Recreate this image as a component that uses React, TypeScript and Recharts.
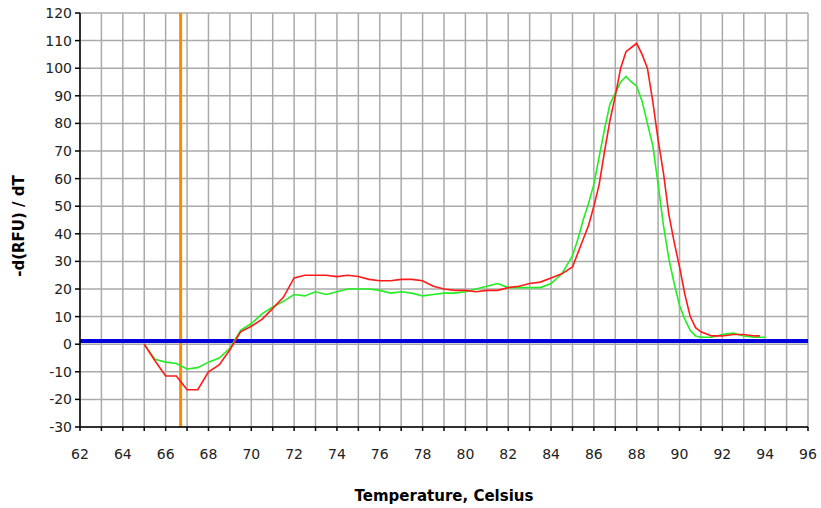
import {
  LineChart,
  Line,
  XAxis,
  YAxis,
  CartesianGrid,
  ReferenceLine,
} from "recharts";

const temps = [
  65, 65.5, 66, 66.5, 67, 67.5, 68, 68.5, 69, 69.5, 70, 70.5, 71, 71.5, 72, 72.5,
  73, 73.5, 74, 74.5, 75, 75.5, 76, 76.5, 77, 77.5, 78, 78.5, 79, 79.5, 80, 80.5,
  81, 81.5, 82, 82.5, 83, 83.5, 84, 84.5, 85, 85.25, 85.5, 85.75, 86, 86.25, 86.5,
  86.75, 87, 87.25, 87.5, 87.75, 88, 88.25, 88.5, 88.75, 89, 89.25, 89.5, 89.75,
  90, 90.25, 90.5, 90.75, 91, 91.5, 92, 92.5, 93, 93.5, 93.75, 94,
];

const red = [
  0, -6, -11.5, -11.5, -16.5, -16.5, -10, -7.5, -2, 4.5, 6.5, 9, 13, 17, 24, 25,
  25, 25, 24.5, 25, 24.5, 23.5, 23, 23, 23.5, 23.5, 23, 21, 20, 19.5, 19.5, 19,
  19.5, 19.5, 20.5, 21, 22, 22.5, 24, 25.5, 28, 33, 38, 43, 50, 58, 70,
  81, 90, 100, 106, 107.5, 109, 105, 100, 88, 74, 62, 47, 37,
  28, 18, 10, 6, 4.5, 3, 3, 3.5, 3.5, 3, 3, null,
];

const green = [
  0, -5.5, -6.5, -7, -9, -8.5, -6.5, -5, -1.5, 5, 7.5, 11, 13.5, 15.5, 18, 17.5,
  19, 18, 19, 20, 20, 20, 19.5, 18.5, 19, 18.5, 17.5, 18, 18.5, 18.5, 19, 20,
  21, 22, 20.5, 20.5, 20.5, 20.5, 22, 25.5, 32, 38, 45, 51, 58, 68, 78,
  87, 91, 95, 97, 95, 93.5, 88, 80, 72, 58, 43, 31, 22,
  14, 9, 5, 3, 2.5, 2.5, 3.5, 4, 3, 2.5, 2.5, 2.5,
];

const xTicks = [
  62, 63, 64, 65, 66, 67, 68, 69, 70, 71, 72, 73, 74, 75, 76, 77, 78, 79, 80, 81,
  82, 83, 84, 85, 86, 87, 88, 89, 90, 91, 92, 93, 94, 95, 96,
];
const yTicks = [-30, -20, -10, 0, 10, 20, 30, 40, 50, 60, 70, 80, 90, 100, 110, 120];

const threshold = 1.2;
const cursorTemp = 66.7;

const data = temps.map((t, i) => ({ t, red: red[i], green: green[i] }));

const font = "'DejaVu Sans', Verdana, sans-serif";

const XTick = (props: any) => {
  const { x, y, payload } = props;
  if (payload.value % 2 !== 0) return null;
  return (
    <text x={x} y={y + 26} textAnchor="middle" fontSize={14} fill="#222" fontFamily={font}>
      {payload.value}
    </text>
  );
};

const YTick = (props: any) => {
  const { x, y, payload } = props;
  return (
    <text x={x - 1} y={y + 5} textAnchor="end" fontSize={14} fill="#222" fontFamily={font}>
      {payload.value}
    </text>
  );
};

export default function App() {
  return (
    <div>
      <style>{"body{margin:0;background:#fff}"}</style>
      <LineChart
        width={821}
        height={508}
        data={data}
        margin={{ top: 13, right: 13, bottom: 0, left: 0 }}
      >
        <CartesianGrid stroke="#aaaaaa" strokeWidth={1.5} />
        <XAxis
          dataKey="t"
          type="number"
          domain={[62, 96]}
          ticks={xTicks}
          interval={0}
          height={81}
          tick={<XTick />}
          tickSize={4}
          axisLine={{ stroke: "#000", strokeWidth: 1.5 }}
          tickLine={{ stroke: "#000", strokeWidth: 1.5 }}
          label={{
            value: "Temperature, Celsius",
            position: "insideBottom",
            offset: 7,
            fill: "#000",
            fontSize: 15,
            fontWeight: "bold",
            fontFamily: font,
          }}
        />
        <YAxis
          type="number"
          domain={[-30, 120]}
          ticks={yTicks}
          interval={0}
          width={80}
          tick={<YTick />}
          tickSize={5}
          axisLine={{ stroke: "#000", strokeWidth: 1.5 }}
          tickLine={{ stroke: "#000", strokeWidth: 1.5 }}
          label={{
            content: () => (
              <text
                x={19}
                y={226}
                transform="rotate(-90 19 226)"
                textAnchor="middle"
                dominantBaseline="middle"
                fontSize={15}
                fontWeight="bold"
                fontFamily={font}
                fill="#000"
              >
                -d(RFU) / dT
              </text>
            ),
          }}
        />
        <ReferenceLine x={cursorTemp} stroke="#ff8800" strokeWidth={3} />
        <ReferenceLine y={threshold} stroke="#0000dd" strokeWidth={4} />
        <Line
          dataKey="green"
          stroke="#22ee22"
          strokeWidth={1.6}
          dot={false}
          type="linear"
          isAnimationActive={false}
        />
        <Line
          dataKey="red"
          stroke="#ff1a1a"
          strokeWidth={1.6}
          dot={false}
          type="linear"
          isAnimationActive={false}
        />
      </LineChart>
    </div>
  );
}
